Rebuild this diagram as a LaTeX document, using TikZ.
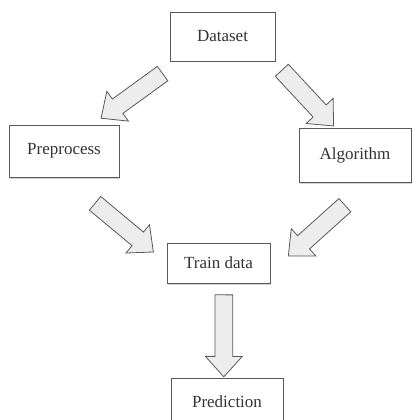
\documentclass[tikz,border=0pt]{standalone}
\usepackage{fontspec}
\setmainfont{Liberation Serif}
\usepackage{xcolor}
\usetikzlibrary{positioning}
\usetikzlibrary{shapes.arrows}
\usetikzlibrary{shadows}
\definecolor{boxline}{gray}{0.35}
\definecolor{arrowfill}{gray}{0.93}
\tikzset{
    block/.style={
           rectangle,
           draw=boxline, thick,
           fill=white,
           text=black!80,
           font=\fontsize{17}{20}\selectfont,
           drop shadow={shadow xshift=1pt, shadow yshift=-1.5pt, opacity=0.35},
           inner sep=2pt,
           text centered,
           },
     fatarrow/.style={
           single arrow,
           draw=boxline, thick,
           fill=arrowfill,
           minimum height=76pt,
           inner xsep=0pt,
           inner ysep=8.5pt,
           single arrow head extend=9.5pt,
           single arrow tip angle=84,
           sloped, allow upside down,
           },
}

\begin{document}
\begin{tikzpicture}[x=1pt,y=-1pt]
	\useasboundingbox (0,0) rectangle (412,420);
	\node[block, minimum width=105pt, minimum height=49pt] (dataset) at (222.5,36.5) {Dataset};
	\node[block, minimum width=110pt, minimum height=52pt] (preprocess) at (64,151) {Preprocess};
	\node[block, minimum width=112pt, minimum height=54pt] (algorithm) at (355,155) {Algorithm};
	\node[block, minimum width=103pt, minimum height=40pt] (train) at (218.5,263) {Train data};
	\node[block, minimum width=112pt, minimum height=45pt, below=95pt of train, xshift=8.5pt] (prediction) {Prediction};
	
	%ARROWS
	
	\path (dataset.210) -- (preprocess.43) node[fatarrow, midway] {};
	\path (dataset.-26) -- (algorithm.126) node[fatarrow, midway] {};
	\path (preprocess.south) -- (train.west) node[fatarrow, pos=0.55] {};
	\path (algorithm.-61) -- (train.-10) node[fatarrow, midway] {};
	\path (train.-75) -- (prediction.98) node[fatarrow, midway, minimum height=82pt] {};
	
\end{tikzpicture}
\end{document}
